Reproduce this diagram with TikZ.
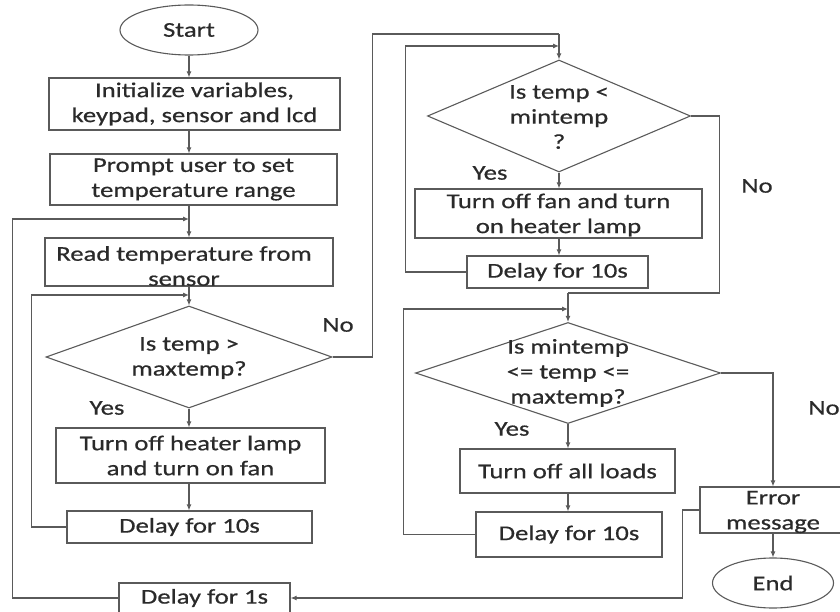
\documentclass[tikz,border=0pt]{standalone}
\usepackage{fontspec}
\setmainfont{Carlito}[FakeStretch=1.27,FakeBold=0.6]
\usetikzlibrary{shapes.geometric,arrows.meta,calc}
\definecolor{ln}{HTML}{5A5A5A}
\definecolor{tx}{HTML}{2A2A2A}
\tikzset{
  base/.style={draw=ln, line width=1.1pt, inner sep=0pt, text=tx, align=center,
    font=\fontsize{21}{25}\selectfont},
  box/.style={base, rectangle},
  oval/.style={base, ellipse},
  dia/.style={draw=ln, line width=1.1pt, diamond, inner sep=0pt},
  txt/.style={text=tx, align=center, inner sep=0pt, font=\fontsize{21}{25}\selectfont},
  arr/.style={draw=ln, line width=1.1pt, -{Latex[length=6pt,width=5pt]}},
  ln/.style={draw=ln, line width=1.1pt},
}
\begin{document}
\begin{tikzpicture}[x=1pt,y=-1pt]
\useasboundingbox (0,0) rectangle (840,612);
% left column
\node[oval, minimum width=138pt, minimum height=50pt] (start) at (189,30) {Start};
\node[box, minimum width=291pt, minimum height=52pt] (init) at (194.5,104) {Initialize variables,\\keypad, sensor and lcd};
\node[box, minimum width=287pt, minimum height=51pt] (prompt) at (193.5,179.5) {Prompt user to set\\temperature range};
\node[box, minimum width=288pt, minimum height=48pt] (read) at (189,262) {};
\node[txt] (readt) at (184,266) {Read temperature from\\sensor};
\node[dia, minimum width=286pt, minimum height=102pt] (d1) at (189,357) {};
\node[txt] (d1t) at (189,358) {Is temp >\\maxtemp?};
\node[box, minimum width=269pt, minimum height=55pt] (b1) at (190.5,455.5) {Turn off heater lamp\\and turn on fan};
\node[box, minimum width=245pt, minimum height=32pt] (dl1) at (189.5,527) {Delay for 10s};
\node[box, minimum width=171pt, minimum height=30pt] (dls) at (204.5,598) {Delay for 1s};
% middle column
\node[dia, minimum width=263pt, minimum height=112pt] (d2) at (559,116) {};
\node[txt] (d2t) at (559,117) {Is temp <\\mintemp\\?};
\node[box, minimum width=287pt, minimum height=49pt] (b2) at (558.5,213.5) {};
\node[txt] (b2t) at (558.5,215) {Turn off fan and turn\\on heater lamp};
\node[box, minimum width=181pt, minimum height=32pt] (dl2) at (557.5,272) {Delay for 10s};
\node[dia, minimum width=305pt, minimum height=101pt] (d3) at (568,373) {};
\node[txt] (d3t) at (568,373) {Is mintemp\\<= temp <=\\maxtemp?};
\node[box, minimum width=215pt, minimum height=44pt] (b3) at (567.5,471) {Turn off all loads};
\node[box, minimum width=186pt, minimum height=45pt] (dl3) at (569,534.5) {Delay for 10s};
% right column
\node[box, minimum width=146pt, minimum height=46pt] (err) at (773,510) {};
\node[txt] (errt) at (773,512) {Error\\message};
\node[oval, minimum width=121pt, minimum height=50pt] (end) at (773,583) {End};
% labels
\node[txt] (no1) at (338,325) {No};
\node[txt] (yes1) at (107,408) {Yes};
\node[txt] (yes2) at (490,173) {Yes};
\node[txt] (no2) at (757,186) {No};
\node[txt] (yes3) at (512,429) {Yes};
\node[txt] (no3) at (824,408) {No};
% junction coordinates
\coordinate (j0) at (189,219);
\coordinate (j1) at (189,295);
\coordinate (j2) at (559,34);
\coordinate (j3) at (559,46);
\coordinate (j4) at (568,309);
\coordinate (j5) at (568,293);
% main flow
\draw[arr] (start.south) -- (start.south |- init.north);
\draw[arr] (init.south -| start) -- (start |- prompt.north);
\draw[arr] (prompt.south -| start) -- (start |- read.north);
\draw[arr] (read.south -| start) -- (d1.north);
\draw[arr] (d1.south) -- (d1.south |- b1.north);
\draw[arr] (b1.south -| d1) -- (d1 |- dl1.north);
\draw[arr] (dl1.west) -- ++(-35,0) |- (j1);
\draw[arr] (dls.west) -- ++(-106,0) |- (j0);
\draw[ln] (d1.east) -- ++(40,0) |- (j2);
\draw[arr] (j2) -- (d2.north);
\draw[arr] (d2.south) -- (d2.south |- b2.north);
\draw[arr] (b2.south -| d2) -- (d2 |- dl2.north);
\draw[arr] (dl2.west) -- ++(-61,0) |- (j3);
\draw[ln] (d2.east) -- ++(28,0) |- (j5);
\draw[arr] (j5) -- (d3.north);
\draw[arr] (d3.south) -- (d3.south |- b3.north);
\draw[arr] (b3.south -| d3) -- (d3 |- dl3.north);
\draw[arr] (dl3.west) -- ++(-72,0) |- (j4);
\draw[arr] (d3.east) -| (err.north);
\draw[arr] (err.south) -- (end.north);
\draw[arr] (err.west) -- ++(-17,0) |- (dls.east);
\end{tikzpicture}
\end{document}
